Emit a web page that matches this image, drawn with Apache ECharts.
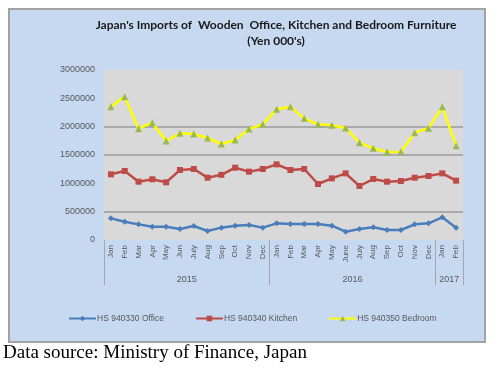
<!DOCTYPE html>
<html>
<head>
<meta charset="utf-8">
<script src="https://cdn.jsdelivr.net/npm/echarts@6/dist/echarts.min.js"></script>
<style>
html,body{margin:0;padding:0;background:#ffffff;}
#chart{width:499px;height:370px;}
</style>
</head>
<body>
<div id="chart"></div>
<script>
var categories = [
  '2015 Jan','2015 Feb','2015 Mar','2015 Apr','2015 May','2015 Jun','2015 July','2015 Aug','2015 Sep','2015 Oct','2015 Nov','2015 Dec',
  '2016 Jan','2016 Feb','2016 Mar','2016 Apr','2016 May','2016 June','2016 July','2016 Aug','2016 Sep','2016 Oct','2016 Nov','2016 Dec',
  '2017 Jan','2017 Feb'
];
var yearLabels = ['2015', '2016', '2017'];
var yearCenters = [6, 18, 25];
var yearBounds = [0, 12, 24, 26];

var office = [382000, 323000, 276000, 235000, 235000, 194000, 247000, 159000, 218000, 253000, 265000, 218000,
              294000, 282000, 282000, 282000, 253000, 147000, 194000, 224000, 176000, 176000, 276000, 294000,
              400000, 218000];
var kitchen = [1159000, 1218000, 1029000, 1071000, 1018000, 1235000, 1253000, 1100000, 1150000, 1276000, 1206000, 1253000,
               1335000, 1235000, 1253000, 988000, 1088000, 1176000, 953000, 1076000, 1029000, 1041000, 1100000, 1129000,
               1176000, 1047000];
var bedroom = [2352000, 2530000, 1965000, 2070000, 1747000, 1882000, 1870000, 1800000, 1694000, 1765000, 1959000, 2041000,
               2306000, 2353000, 2147000, 2041000, 2024000, 1976000, 1718000, 1618000, 1553000, 1559000, 1894000, 1971000,
               2352000, 1665000];
var seriesNames = ['HS 940330 Office', 'HS 940340 Kitchen', 'HS 940350 Bedroom'];
var titleLines = ["Japan's Imports of  Wooden  Office, Kitchen and Bedroom Furniture", "(Yen 000's)"];
var sourceText = 'Data source: Ministry of Finance, Japan';

var chart = echarts.init(document.getElementById('chart'));
var labelColor = '#595959';
var option = {
  animation: false,
  backgroundColor: '#ffffff',
  graphic: [
    { type: 'rect', shape: { x: 9, y: 9, width: 476, height: 333 },
      style: { fill: '#c6d9f1', stroke: '#a3a3a3', lineWidth: 2 }, z: -10 },
    { type: 'text', left: 3, top: 344,
      style: { text: sourceText, fontFamily: 'Liberation Serif', fontSize: 19, fill: '#000000' } }
  ],
  title: {
    text: titleLines.join('\n'),
    left: 271, top: 12, textAlign: 'center',
    textStyle: { fontFamily: 'Lato', fontWeight: 'bold', fontSize: 12, color: '#1a1a1a', lineHeight: 16, align: 'center' }
  },
  legend: {
    left: 63, top: 309,
    itemWidth: 27, itemHeight: 7, itemGap: 31,
    textStyle: { color: labelColor, fontSize: 8.5, fontFamily: 'Liberation Sans', padding: [0,0,0,-4] },
    data: seriesNames
  },
  grid: {
    left: 104, right: 36, top: 70, bottom: 130,
    show: true, backgroundColor: '#d9d9d9', borderWidth: 0
  },
  xAxis: [
    {
      type: 'category', data: categories, boundaryGap: true,
      axisLine: { show: false }, axisTick: { show: false },
      axisLabel: {
        rotate: 90, interval: 0, margin: 5, color: labelColor, fontSize: 8, fontFamily: 'Liberation Sans',
        formatter: function (v) { return v.split(' ')[1]; }
      }
    },
    {
      type: 'value', min: 0, max: 26, interval: 1, position: 'bottom', offset: 45,
      axisLine: { show: false },
      splitLine: { show: false },
      axisTick: { show: true, inside: true, length: 45, customValues: yearBounds,
                  lineStyle: { color: '#a6a6a6', width: 1 } },
      axisLabel: {
        inside: true, margin: 1, customValues: yearCenters, color: labelColor, fontSize: 9, fontFamily: 'Liberation Sans',
        formatter: function (v) { var i = yearCenters.indexOf(v); return i >= 0 ? yearLabels[i] : ''; }
      }
    }
  ],
  yAxis: {
    type: 'value', min: 0, max: 3000000, interval: 500000,
    axisLine: { show: false }, axisTick: { show: false },
    axisLabel: { color: labelColor, fontSize: 9, fontFamily: 'Liberation Sans', margin: 9,
                 formatter: function (v) { return String(v); } },
    splitLine: { show: true, lineStyle: { width: 1.5,
      color: ['rgba(0,0,0,0)', '#9a9a9a', 'rgba(0,0,0,0)', '#9a9a9a', '#9a9a9a', 'rgba(0,0,0,0)', 'rgba(0,0,0,0)'] } }
  },
  series: [
    { name: seriesNames[0], type: 'line', data: office, xAxisIndex: 0,
      symbol: 'diamond', symbolSize: 6,
      lineStyle: { color: '#4a7ebb', width: 2.5 }, itemStyle: { color: '#4a7ebb' } },
    { name: seriesNames[1], type: 'line', data: kitchen, xAxisIndex: 0,
      symbol: 'rect', symbolSize: 6,
      lineStyle: { color: '#be4b48', width: 2.5 }, itemStyle: { color: '#be4b48' } },
    { name: seriesNames[2], type: 'line', data: bedroom, xAxisIndex: 0,
      symbol: 'triangle', symbolSize: 7,
      lineStyle: { color: '#ffff00', width: 2.5 }, itemStyle: { color: '#98b954' } }
  ]
};
chart.setOption(option);
</script>
</body>
</html>
